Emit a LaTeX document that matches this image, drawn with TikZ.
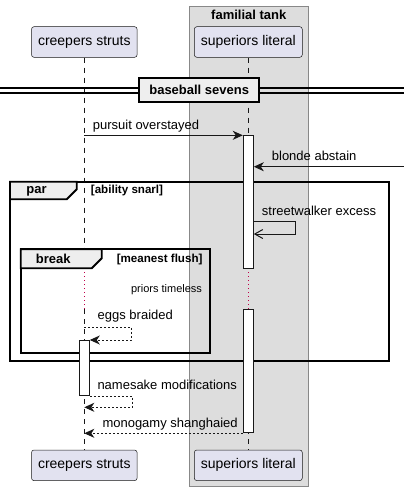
\documentclass[tikz,border=0pt]{standalone}
\usepackage{fontspec}
\setmainfont{Liberation Sans}
\usetikzlibrary{positioning,arrows.meta,calc}

\definecolor{partfill}{HTML}{E2E2F0}
\definecolor{partline}{HTML}{181818}
\definecolor{boxfill}{HTML}{DDDDDD}
\definecolor{boxline}{HTML}{888888}
\definecolor{tabfill}{HTML}{EEEEEE}
\definecolor{delayred}{HTML}{C0004A}

\tikzset{
  part/.style={draw=partline, line width=0.5pt, fill=partfill, rounded corners=2.5pt,
    minimum height=30.6pt, inner xsep=6.5pt, font=\fontsize{14}{16}\selectfont},
  life/.style={draw=partline, line width=0.5pt, dash pattern=on 5pt off 5pt},
  act/.style={draw=partline, fill=white, line width=1pt, minimum width=10pt, inner sep=0pt, anchor=north},
  lbl/.style={inner sep=0pt, anchor=base west, font=\fontsize{13}{15}\selectfont},
  sync/.style={draw=partline, line width=1pt, -{Stealth[length=10pt,width=9pt,inset=3pt]}},
  reply/.style={sync, dash pattern=on 2pt off 2pt},
  async/.style={draw=partline, line width=1pt, -{Straight Barb[length=8pt,width=9pt]}},
  frame/.style={draw=black, line width=1.8pt},
  tab/.style={draw=black, line width=1.8pt, fill=tabfill},
  hdr/.style={font=\bfseries\fontsize{13}{15}\selectfont, inner sep=0pt},
  guard/.style={font=\bfseries\fontsize{11.6}{13}\selectfont, inner sep=0pt},
  delay/.style={draw=delayred, line width=1pt, dash pattern=on 1pt off 3pt}
}

\begin{document}
\begin{tikzpicture}[x=1pt,y=-1pt]
  \useasboundingbox (0,0) rectangle (404,491);

  % the box round superiors literal
  \node[draw=boxline, fill=boxfill, minimum width=119pt, minimum height=480pt,
    anchor=north west, inner sep=0pt] (tank) at (189.3,6) {};
  \node[hdr] (tankt) at (248.8,15) {familial tank};

  \node[part] (cs) at (84.3,42) {creepers struts};
  \node[part] (sl) at (248.3,42) {superiors literal};
  \node[part] (csb) at (84.3,465.3) {creepers struts};
  \node[part] (slb) at (248.3,465.3) {superiors literal};

  % lifelines, cut by the delay
  \coordinate (cd1) at (cs |- 0,268.3);
  \coordinate (cd2) at (cs |- 0,309.3);
  \coordinate (sd1) at (sl |- 0,268.3);
  \coordinate (sd2) at (sl |- 0,309.3);
  \draw[life] (cs.south) -- (cd1) (cd2) -- (csb.north);
  \draw[life] (sl.south) -- (sd1) (sd2) -- (slb.north);
  \draw[delay] (cd1) -- (cd2);
  \draw[delay] (sd1) -- (sd2);

  % divider
  \draw[line width=1.2pt] (0,88) -- (404,88) (0,93) -- (404,93);
  \node[draw=black, line width=2pt, fill=tabfill, hdr, minimum width=119.7pt,
    minimum height=24.6pt] (sep) at (199.2,90) {baseball sevens};

  % par
  \draw[frame] (10,181.7) rectangle (388.7,360.7);
  \draw[tab] (10,181.7) -- (76.7,181.7) -- (76.7,189.3) -- (66.7,199.3) -- (10,199.3) -- cycle;
  \node[hdr] (par) at (36.5,191) {par};
  \node[guard, anchor=base west] (parg) at (90.7,193.5) {[ability snarl]};

  % break
  \draw[frame] (20.7,249.3) rectangle (209.7,353.3);
  \draw[tab] (20.7,249.3) -- (101.7,249.3) -- (101.7,258.3) -- (91.7,268.3) -- (20.7,268.3) -- cycle;
  \node[hdr] (brk) at (53.3,259) {break};
  \node[guard, anchor=base east] (brkg) at (202.7,262.3) {[meanest flush]};

  % activations
  \node[act, minimum height=133pt] (sa1) at (248.3,135.3) {};
  \node[act, minimum height=123pt] (sa2) at (248.3,309.3) {};
  \node[act, minimum height=55pt] (ca) at (84.3,340) {};

  % messages
  \coordinate (m1) at (cs |- 0,135.3);
  \draw[sync] (m1) -- (sa1.north west);
  \node[lbl] at (92.7,129.5) {pursuit overstayed};

  \coordinate (m2) at (404,166.7);
  \draw[sync] (m2) -- (sa1.east |- m2);
  \node[lbl] at (271.7,160.3) {blonde abstain};

  \coordinate (m3) at (sa1.east |- 0,221.7);
  \draw[async] (m3) -- ++(42,0) |- (sa1.east |- 0,234);
  \node[lbl] at (261.7,215.3) {streetwalker excess};

  \node[font=\fontsize{11}{13}\selectfont, inner sep=0pt] (dl) at (166.5,289.3) {priors timeless};

  \coordinate (m5) at (cs |- 0,327.3);
  \draw[reply] (m5) -- ++(47.4,0) |- (ca.north east);
  \node[lbl] at (97.5,319.5) {eggs braided};

  \draw[reply] (ca.south east) -- ++(42.4,0) |- (cs |- 0,407.3);
  \node[lbl] at (97.3,389) {namesake modifications};

  \draw[reply] (sa2.south west) -- (cs |- sa2.south west);
  \node[lbl] at (102.3,427) {monogamy shanghaied};
\end{tikzpicture}
\end{document}
